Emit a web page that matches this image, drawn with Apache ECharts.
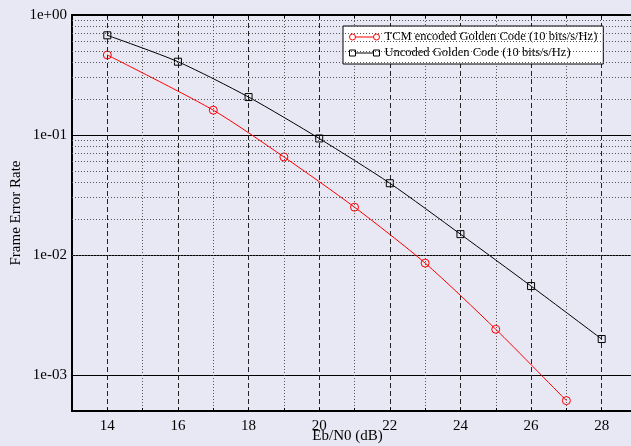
<!DOCTYPE html>
<html>
<head>
<meta charset="utf-8">
<script src="https://cdn.jsdelivr.net/npm/echarts@6/dist/echarts.min.js"></script>
<style>
  html, body { margin: 0; padding: 0; background: #e8e8f4; }
  #chart { width: 631px; height: 446px; }
</style>
</head>
<body>
<div id="chart"></div>
<script>
// Eb/N0 (dB) points and frame error rates
var tcmEbN0 = [14, 17, 19, 21, 23, 25, 27];
var tcmFer = [0.464, 0.161, 0.0656, 0.025, 0.00855, 0.0024, 0.00061];
var uncEbN0 = [14, 16, 18, 20, 22, 24, 26, 28];
var uncFer = [0.677, 0.408, 0.207, 0.0935, 0.0396, 0.0149, 0.0055, 0.00199];

var tcmName = 'TCM encoded Golden Code (10 bits/s/Hz)';
var uncName = 'Uncoded Golden Code (10 bits/s/Hz)';

var yMin = 5e-4, yMax = 1;

// minor log grid lines (2..9 x 10^k) inside the y range
var minorY = [];
for (var k = -4; k < 0; k++) {
  for (var m = 2; m <= 9; m++) {
    var v = m * Math.pow(10, k);
    if (v > yMin * 1.0001 && v < yMax) minorY.push({ yAxis: v });
  }
}

function pairs(xs, ys) {
  return xs.map(function (x, i) { return [x, ys[i]]; });
}

function expLabel(v) {
  var l = Math.log10(v);
  var e = Math.round(l);
  if (Math.abs(l - e) > 1e-6) return '';
  return '1e' + (e < 0 ? '-' : '+') + String(Math.abs(e)).padStart(2, '0');
}

var serif = 'Liberation Serif';
var chart = echarts.init(document.getElementById('chart'));

var option = {
  backgroundColor: '#e8e8f4',
  animation: false,
  textStyle: { fontFamily: serif },
  grid: {
    left: 72, top: 15, right: -6, bottom: 35,
    outerBoundsMode: 'none'
  },
  legend: {
    data: [
      {
        name: tcmName,
        icon: 'path://M0,3 A3,3 0 1,1 6,3 A3,3 0 1,1 0,3 Z M6,3 L24,3 M24,3 A3,3 0 1,1 30,3 A3,3 0 1,1 24,3 Z',
        itemStyle: { color: 'transparent', borderColor: '#ff0000', borderWidth: 1 }
      },
      {
        name: uncName,
        icon: 'path://M0,0 L6,0 L6,6 L0,6 Z M6,3 L24,3 M24,0 L30,0 L30,6 L24,6 Z',
        itemStyle: { color: 'transparent', borderColor: '#000', borderWidth: 1 }
      }
    ],
    orient: 'vertical',
    left: 343,
    top: 26,
    itemWidth: 30,
    itemHeight: 6,
    itemGap: 2,
    padding: [4, 6, 4, 6],
    backgroundColor: '#fff',
    borderColor: '#000',
    borderWidth: 1,
    borderRadius: 0,
    textStyle: { fontFamily: serif, fontSize: 12.5, color: '#000', lineHeight: 14 }
  },
  xAxis: [
    {
      type: 'value',
      min: 13,
      max: 29,
      interval: 1,
      position: 'bottom',
      name: 'Eb/N0 (dB)',
      nameLocation: 'middle',
      nameGap: 18,
      nameMoveOverlap: false,
      nameTextStyle: { fontFamily: serif, fontSize: 15, color: '#000', padding: [0, 14, 0, 0] },
      axisLine: { lineStyle: { color: '#000', width: 2 } },
      axisTick: { inside: true, length: 3, lineStyle: { color: '#000' } },
      axisLabel: {
        margin: 8,
        fontFamily: serif,
        fontSize: 15,
        color: '#000',
        formatter: function (v) { return v % 2 === 0 ? String(v) : ''; }
      },
      splitLine: {
        show: true,
        lineStyle: { type: [5, 3], width: 1, color: ['transparent', '#222'] }
      }
    },
    {
      type: 'value',
      min: 13,
      max: 29,
      interval: 1,
      position: 'top',
      axisLine: { lineStyle: { color: '#000', width: 2 } },
      axisTick: { inside: true, length: 3, lineStyle: { color: '#000' } },
      axisLabel: { show: false },
      splitLine: {
        show: true,
        lineStyle: { type: [1, 2], width: 1, color: ['#555', 'transparent'] }
      }
    }
  ],
  yAxis: {
    type: 'log',
    logBase: 10,
    min: yMin,
    max: yMax,
    name: 'Frame Error Rate',
    nameLocation: 'middle',
    nameGap: 48,
    nameMoveOverlap: false,
    nameTextStyle: { fontFamily: serif, fontSize: 15, color: '#000' },
    axisLine: { show: true, lineStyle: { color: '#000', width: 2 } },
    axisTick: { show: false },
    axisLabel: {
      margin: 5,
      fontFamily: serif,
      fontSize: 15,
      color: '#000',
      formatter: expLabel
    },
    splitLine: { show: true, lineStyle: { color: '#000', width: 1, type: 'solid' } }
  },
  series: [
    {
      name: 'minor grid',
      type: 'line',
      data: [],
      silent: true,
      z: 1,
      markLine: {
        silent: true,
        symbol: ['none', 'none'],
        label: { show: false },
        lineStyle: { type: [1, 2], width: 1, color: '#555' },
        data: minorY
      }
    },
    {
      name: tcmName,
      type: 'line',
      data: pairs(tcmEbN0, tcmFer),
      smooth: 0.25,
      symbol: 'circle',
      symbolSize: 8,
      z: 4,
      lineStyle: { color: '#ff0000', width: 1 },
      itemStyle: { color: 'transparent', borderColor: '#ff0000', borderWidth: 1 }
    },
    {
      name: uncName,
      type: 'line',
      data: pairs(uncEbN0, uncFer),
      smooth: 0.25,
      symbol: 'rect',
      symbolSize: 7,
      z: 3,
      lineStyle: { color: '#000', width: 1 },
      itemStyle: { color: 'transparent', borderColor: '#000', borderWidth: 1 }
    }
  ]
};

chart.setOption(option);
</script>
</body>
</html>
